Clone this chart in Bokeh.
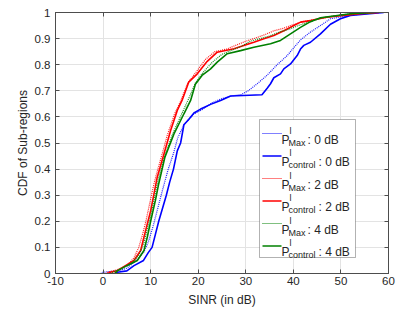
from bokeh.plotting import figure
from bokeh.models import (Label, BoxAnnotation, LinearAxis, Range1d, FixedTicker,
                          CustomLabelingPolicy)
from bokeh.embed import file_html
from bokeh.resources import INLINE

# ---------------- data ----------------
x_ticks = [-10, 0, 10, 20, 30, 40, 50, 60]
y_ticks = [0, 0.1, 0.2, 0.3, 0.4, 0.5, 0.6, 0.7, 0.8, 0.9, 1]

# P^l_Max : 0 dB (blue dotted)
sinr_max0 = [-0.5, 0.0, 3.0, 5.0, 7.0, 8.5, 9.5, 10.5, 11.5, 12.5, 13.7, 14.8, 15.7, 17.0, 19.0,
             21.0, 23.0, 25.0, 27.0, 29.0, 30.5, 32.4, 34.5, 36.6, 38.7, 41.5, 43.6, 45.7, 47.8,
             52.0, 58.0]
cdf_max0 = [0.0, 0.005, 0.01, 0.02, 0.05, 0.08, 0.12, 0.18, 0.25, 0.32, 0.40, 0.46, 0.52, 0.57, 0.61,
            0.63, 0.655, 0.67, 0.68, 0.685, 0.70, 0.727, 0.76, 0.80, 0.835, 0.895, 0.925, 0.95, 0.976,
            0.99, 1.0]
# P^l_control : 0 dB (blue solid)
sinr_ctl0 = [2.5, 3.0, 5.0, 6.5, 8.5, 9.5, 10.3, 11.0, 11.7, 12.5, 13.3, 14.0, 14.8, 15.6, 16.3,
             17.0, 18.0, 19.1, 20.5, 22.6, 24.7, 26.8, 33.4, 34.5, 35.2, 35.9, 37.3, 38.0, 39.4,
             40.8, 41.5, 42.2, 43.6, 45.7, 47.8, 49.9, 52.0, 56.0, 59.0]
cdf_ctl0 = [0.0, 0.005, 0.01, 0.03, 0.05, 0.08, 0.10, 0.15, 0.20, 0.25, 0.30, 0.35, 0.40, 0.47, 0.50,
            0.57, 0.59, 0.615, 0.63, 0.648, 0.663, 0.68, 0.685, 0.71, 0.727, 0.75, 0.765, 0.784, 0.803,
            0.835, 0.86, 0.874, 0.886, 0.918, 0.955, 0.976, 0.989, 0.995, 1.0]
# P^l_Max : 2 dB (red dotted)
sinr_max2 = [0.5, 1.0, 3.0, 5.0, 6.5, 7.5, 8.3, 9.0, 9.7, 10.4, 11.2, 12.3, 13.5, 15.0, 16.3, 17.8,
             19.5, 21.5, 23.5, 26.0, 28.0, 30.0, 31.7, 34.0, 35.9, 38.0, 39.4, 42.0, 45.0, 50.0, 56.0]
cdf_max2 = [0.0, 0.005, 0.015, 0.03, 0.06, 0.10, 0.15, 0.20, 0.26, 0.32, 0.38, 0.45, 0.53, 0.61, 0.66,
            0.73, 0.77, 0.82, 0.85, 0.86, 0.875, 0.89, 0.90, 0.915, 0.93, 0.94, 0.95, 0.965, 0.975,
            0.99, 1.0]
# P^l_control : 2 dB (red solid)
sinr_ctl2 = [1.0, 1.5, 3.0, 4.7, 6.5, 7.9, 8.6, 9.3, 10.0, 10.7, 11.4, 12.8, 14.2, 15.6, 16.6, 18.0,
             19.8, 21.9, 24.0, 27.5, 29.6, 31.7, 33.8, 35.9, 38.0, 40.1, 41.5, 43.6, 47.0, 50.0,
             54.0, 58.0]
cdf_ctl2 = [0.0, 0.005, 0.01, 0.03, 0.05, 0.088, 0.14, 0.19, 0.24, 0.305, 0.37, 0.458, 0.548, 0.625,
            0.663, 0.733, 0.765, 0.813, 0.848, 0.861, 0.874, 0.886, 0.899, 0.912, 0.93, 0.95, 0.963,
            0.969, 0.982, 0.988, 0.995, 1.0]
# P^l_Max : 4 dB (green dotted)
sinr_max4 = [1.5, 2.0, 4.0, 6.0, 7.5, 8.5, 9.3, 10.0, 10.8, 11.6, 12.8, 14.5, 16.5, 18.0, 19.4, 21.0,
             23.0, 25.0, 27.0, 29.0, 31.0, 33.0, 35.0, 37.0, 39.0, 41.0, 43.6, 46.0, 52.0, 56.0]
cdf_max4 = [0.0, 0.005, 0.02, 0.04, 0.07, 0.11, 0.17, 0.22, 0.29, 0.36, 0.44, 0.53, 0.61, 0.67, 0.73,
            0.77, 0.81, 0.84, 0.855, 0.87, 0.89, 0.90, 0.91, 0.925, 0.935, 0.95, 0.965, 0.98, 0.995, 1.0]
# P^l_control : 4 dB (green solid)
sinr_ctl4 = [2.5, 3.0, 5.0, 7.2, 8.6, 9.3, 10.0, 11.0, 11.7, 13.0, 14.9, 17.0, 18.4, 19.4, 20.8, 22.6,
             24.0, 26.1, 28.9, 31.7, 35.2, 37.3, 39.4, 41.5, 43.6, 45.7, 52.0, 57.0]
cdf_ctl4 = [0.0, 0.01, 0.03, 0.05, 0.088, 0.14, 0.20, 0.28, 0.344, 0.446, 0.535, 0.612, 0.663, 0.725,
            0.759, 0.784, 0.81, 0.842, 0.854, 0.867, 0.88, 0.893, 0.918, 0.943, 0.965, 0.98, 0.995, 1.0]

series = [
    (sinr_max0, cdf_max0, "#0000ff", "dotted", "Max", "0 dB"),
    (sinr_ctl0, cdf_ctl0, "#0000ff", "solid", "control", "0 dB"),
    (sinr_max2, cdf_max2, "#ff0000", "dotted", "Max", "2 dB"),
    (sinr_ctl2, cdf_ctl2, "#ff0000", "solid", "control", "2 dB"),
    (sinr_max4, cdf_max4, "#008000", "dotted", "Max", "4 dB"),
    (sinr_ctl4, cdf_ctl4, "#008000", "solid", "control", "4 dB"),
]

# ---------------- styling ----------------
FONT = "Liberation Sans"
TXT = "#262626"
AX = "#4d4d4d"

FL, FT, FW, FH = 55, 12, 333, 261   # frame position inside the figure (figure sits at page 0,0)
W, H = 397, 313

p = figure(width=W, height=H, frame_width=FW, frame_height=FH,
           x_range=Range1d(-10, 60), y_range=Range1d(0, 1),
           output_backend="svg", toolbar_location=None,
           min_border_left=FL, min_border_top=FT, min_border_right=W - FL - FW,
           min_border_bottom=H - FT - FH,
           background_fill_color="white", border_fill_color="white")
p.outline_line_color = AX
p.outline_line_width = 1

for ax in (p.xaxis[0], p.yaxis[0]):
    ax.axis_line_color = AX
    ax.major_tick_line_color = AX
    ax.major_tick_in = 4
    ax.major_tick_out = 0
    ax.minor_tick_line_color = None
    ax.major_label_text_font = FONT
    ax.major_label_text_font_size = "11.5px"
    ax.major_label_text_color = TXT
    ax.axis_label_text_font = FONT
    ax.axis_label_text_font_size = "12px"
    ax.axis_label_text_font_style = "normal"
    ax.axis_label_text_color = TXT

p.xaxis.ticker = FixedTicker(ticks=x_ticks)
p.yaxis.ticker = FixedTicker(ticks=y_ticks)
p.yaxis.major_label_overrides = {0: "0", 1: "1"}
p.xaxis.major_label_overrides = {-10: "-10"}
p.xaxis.axis_label = "SINR (in dB)"
p.yaxis.axis_label = "CDF of Sub-regions"
p.xaxis.major_label_standoff = 3
p.xaxis.axis_label_standoff = 5
p.yaxis.major_label_standoff = 5
p.yaxis.axis_label_standoff = 2

hide_all = CustomLabelingPolicy(code="""
try { for (const i of indices) { indices.unset(i) } } catch (e) {}
return indices
""")
for loc, tk in (("right", y_ticks), ("above", x_ticks)):
    a = LinearAxis(ticker=FixedTicker(ticks=tk), major_label_text_font_size="0px",
                   major_label_policy=hide_all,
                   major_label_standoff=0, major_tick_in=4, major_tick_out=0,
                   minor_tick_line_color=None, axis_line_color=AX, major_tick_line_color=AX)
    p.add_layout(a, loc)

p.xgrid.grid_line_color = "#e3e3e3"
p.ygrid.grid_line_color = "#e3e3e3"
p.xgrid.ticker = FixedTicker(ticks=x_ticks)
p.ygrid.ticker = FixedTicker(ticks=y_ticks)

# ---------------- legend box (below the curves, above the grid) ----------------
def dx(px):
    return -10 + (px - FL) / FW * 70


def dy(py):
    return 1 - (py - FT) / FH


p.add_layout(BoxAnnotation(left=dx(259), right=dx(355), top=dy(119), bottom=dy(257),
                           fill_color="white", fill_alpha=1, line_color="black", line_width=1,
                           level="underlay"))

for xs, ys, col, dash, sub, val in series:
    if dash == "dotted":
        p.line(xs, ys, line_color=col, line_width=1.2, line_dash="1 1", line_alpha=0.9)
    else:
        p.line(xs, ys, line_color=col, line_width=1.6)

# ---------------- legend entries ----------------
def lab(text, px, py, size):
    p.add_layout(Label(x=-10, y=1, x_offset=px - FL, y_offset=-(py - FT), text=text,
                       text_font=FONT, text_font_size=size, text_color=TXT,
                       text_align="left", text_baseline="alphabetic", level="overlay"))


for i, (xs, ys, col, dash, sub, val) in enumerate(series):
    ly = 133 + 22.5 * i
    p.segment(x0=[dx(262)], y0=[dy(ly)], x1=[dx(281)], y1=[dy(ly)], line_color=col,
              line_width=1.2 if dash == "dotted" else 1.6,
              line_dash="1 1" if dash == "dotted" else "solid")
    lab("P", 281, ly + 6, "12px")
    lab("l", 289, ly - 3, "9px")
    lab(sub, 288, ly + 9, "9px")
    lab(": " + val, 307 if sub == "Max" else 318, ly + 6, "12px")

open("out.html", "w").write(file_html(p, INLINE))
